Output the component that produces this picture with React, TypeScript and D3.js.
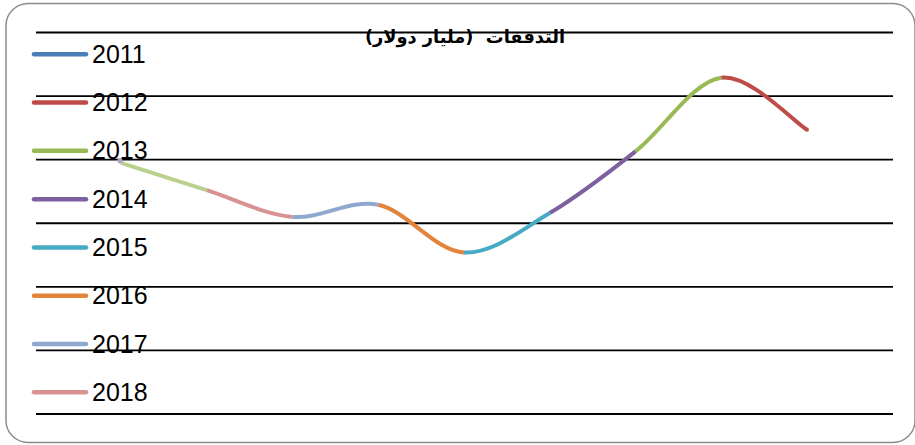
import React from "react";
import * as d3 from "d3";

const years = ["2011", "2012", "2013", "2014", "2015", "2016", "2017", "2018", "2019"];
const flows = [44.7, 52.9, 41.3, 31.6, 25.4, 32.9, 31.0, 35.2, 39.5];
const pointColors = ["#4A7EBB", "#BE4B48", "#98B954", "#7D60A0", "#46AAC5", "#E3843C", "#8FA8D0", "#D69391", "#B9D08F"];
const legendYears = ["2011", "2012", "2013", "2014", "2015", "2016", "2017", "2018"];
const gridTicks = [0, 10, 20, 30, 40, 50, 60];
const title = "التدفقات  (مليار دولار)";

const W = 915;
const H = 445;

export default function App() {
  const x = d3.scalePoint<string>().domain(years).range([807, 121]);
  const y = d3.scaleLinear().domain([0, 60]).range([414, 32.5]);
  const legendY = d3.scalePoint<string>().domain(legendYears).range([54.3, 392.3]);

  const pts = years.map((yr, i) => [x(yr) as number, y(flows[i])] as [number, number]);
  const n = pts.length;
  const segs: { d: string; color: string }[] = [];
  for (let i = 0; i < n - 1; i++) {
    const p0 = pts[Math.max(0, i - 1)];
    const p1 = pts[i];
    const p2 = pts[i + 1];
    const p3 = pts[Math.min(n - 1, i + 2)];
    const c1: [number, number] = [p1[0] + (p2[0] - p0[0]) / 6, p1[1] + (p2[1] - p0[1]) / 6];
    const c2: [number, number] = [p2[0] - (p3[0] - p1[0]) / 6, p2[1] - (p3[1] - p1[1]) / 6];
    const path = d3.path();
    path.moveTo(p1[0], p1[1]);
    path.bezierCurveTo(c1[0], c1[1], c2[0], c2[1], p2[0], p2[1]);
    segs.push({ d: path.toString(), color: pointColors[i + 1] });
  }
  const last = pts[n - 1];

  return (
    <svg width={W} height={H} style={{ position: "absolute", left: 0, top: 0 }}>
      <rect x={0} y={0} width={W} height={H} fill="#fff" />
      <rect x={6} y={3.5} width={909} height={439} rx={22} ry={22} fill="#fff" stroke="#8c8c8c" strokeWidth={1.5} />
      {gridTicks.map((t) => (
        <line key={t} x1={36} x2={893} y1={y(t)} y2={y(t)} stroke="#000" strokeWidth={1.8} />
      ))}
      {segs.map((s, i) => (
        <path key={i} d={s.d} fill="none" stroke={s.color} strokeWidth={4} strokeLinecap="butt" />
      ))}
      <circle cx={last[0] - 1} cy={last[1] - 2} r={2.6} fill="#B3A2C7" />
      <circle cx={pts[0][0]} cy={pts[0][1]} r={2} fill={pointColors[1]} />
      <text
        x={465}
        y={43}
        textAnchor="middle"
        direction="rtl"
        fontFamily="DejaVu Sans"
        fontWeight="bold"
        fontSize={17.8}
        fill="#000"
        style={{ whiteSpace: "pre" }}
      >
        {title}
      </text>
      {legendYears.map((yr, i) => (
        <g key={yr}>
          <line x1={34} x2={86} y1={legendY(yr)} y2={legendY(yr)} stroke={pointColors[i]} strokeWidth={4.5} strokeLinecap="round" />
          <text x={92} y={(legendY(yr) as number) + 8.5} fontFamily="Liberation Sans, Arial" fontSize={25} fill="#000">
            {yr}
          </text>
        </g>
      ))}
    </svg>
  );
}
